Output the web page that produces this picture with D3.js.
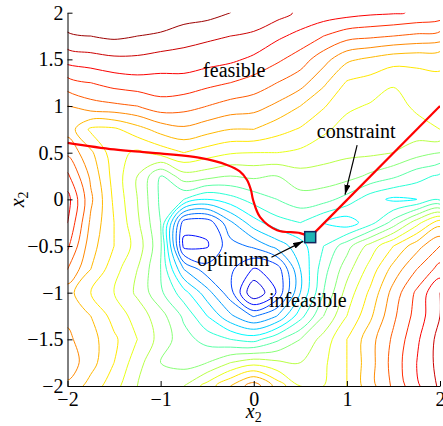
<!DOCTYPE html>
<html>
<head>
<meta charset="utf-8">
<script src="https://cdn.jsdelivr.net/npm/d3@7"></script>
<style>
  body { margin: 0; background: #fff; }
  svg { display: block; }
</style>
</head>
<body>
<div id="chart"></div>
<script>
"use strict";

// axis ticks
var xTicks = [-2, -1, 0, 1, 2];
var yTicks = [-2, -1.5, -1, -0.5, 0, 0.5, 1, 1.5, 2];

// sample grid of the objective
var gridX = [-2, -1.75, -1.5, -1.25, -1, -0.75, -0.5, -0.25, 0, 0.25, 0.5, 0.75, 1, 1.25, 1.5, 1.75, 2];
var gridY = [2, 1.75, 1.5, 1.25, 1, 0.75, 0.5, 0.25, 0, -0.25, -0.5, -0.75, -1, -1.25, -1.5, -1.75, -2];
// one row per gridY value (top row first), one column per gridX value
var zRows = [
  [1.05, 1.06, 1.07, 1.06, 1.05, 1.03, 1.02, 1.0, 0.99, 0.97, 0.94, 0.93, 0.92, 0.91, 0.905, 0.895, 0.885],
  [0.99, 1.0, 1.01, 1.0, 0.99, 0.97, 0.96, 0.95, 0.94, 0.91, 0.885, 0.85, 0.82, 0.81, 0.8, 0.79, 0.78],
  [0.92, 0.93, 0.94, 0.94, 0.93, 0.93, 0.92, 0.91, 0.89, 0.86, 0.825, 0.77, 0.71, 0.69, 0.67, 0.665, 0.66],
  [0.83, 0.85, 0.87, 0.88, 0.88, 0.88, 0.865, 0.85, 0.83, 0.8, 0.77, 0.71, 0.645, 0.63, 0.605, 0.625, 0.64],
  [0.75, 0.78, 0.79, 0.8, 0.83, 0.82, 0.8, 0.78, 0.77, 0.74, 0.7, 0.655, 0.61, 0.595, 0.58, 0.61, 0.63],
  [0.73, 0.64, 0.64, 0.68, 0.72, 0.74, 0.72, 0.7, 0.7, 0.67, 0.645, 0.61, 0.58, 0.57, 0.57, 0.58, 0.6],
  [0.79, 0.71, 0.62, 0.59, 0.62, 0.65, 0.625, 0.605, 0.6, 0.6, 0.59, 0.57, 0.56, 0.56, 0.55, 0.52, 0.5],
  [0.86, 0.74, 0.63, 0.55, 0.45, 0.53, 0.52, 0.5, 0.51, 0.5, 0.53, 0.53, 0.52, 0.49, 0.46, 0.42, 0.39],
  [0.92, 0.76, 0.64, 0.55, 0.44, 0.4, 0.35, 0.38, 0.42, 0.45, 0.48, 0.47, 0.43, 0.37, 0.34, 0.35, 0.39],
  [0.9, 0.74, 0.65, 0.56, 0.45, 0.12, 0.115, 0.24, 0.33, 0.38, 0.4, 0.35, 0.32, 0.38, 0.47, 0.58, 0.68],
  [0.86, 0.72, 0.65, 0.58, 0.46, 0.085, 0.095, 0.18, 0.21, 0.27, 0.33, 0.4, 0.48, 0.57, 0.65, 0.73, 0.8],
  [0.8, 0.7, 0.62, 0.55, 0.45, 0.25, 0.17, 0.16, 0.095, 0.12, 0.3, 0.43, 0.53, 0.62, 0.72, 0.8, 0.87],
  [0.72, 0.65, 0.6, 0.54, 0.46, 0.37, 0.27, 0.17, 0.0, 0.105, 0.3, 0.45, 0.57, 0.66, 0.77, 0.86, 0.95],
  [0.74, 0.7, 0.63, 0.58, 0.52, 0.44, 0.35, 0.26, 0.195, 0.25, 0.38, 0.5, 0.6, 0.69, 0.79, 0.87, 0.95],
  [0.76, 0.72, 0.66, 0.6, 0.53, 0.47, 0.43, 0.4, 0.38, 0.44, 0.5, 0.57, 0.65, 0.73, 0.81, 0.89, 0.97],
  [0.78, 0.72, 0.65, 0.57, 0.5, 0.48, 0.5, 0.55, 0.58, 0.56, 0.55, 0.59, 0.65, 0.73, 0.82, 0.9, 0.97],
  [0.74, 0.68, 0.62, 0.55, 0.52, 0.55, 0.62, 0.7, 0.78, 0.68, 0.6, 0.6, 0.65, 0.73, 0.81, 0.89, 0.96]
];
// contour levels
var levels = [0.05, 0.1, 0.15, 0.2, 0.25, 0.3, 0.35, 0.4, 0.45, 0.5,
              0.55, 0.6, 0.65, 0.7, 0.75, 0.8, 0.85, 0.9, 0.95, 1.0];

// constraint boundary: curved branch up to the optimum, then a straight branch
var constraintCurveX = [-2, -1.5, -1.114, -0.577, -0.287, -0.15, -0.072, -0.03, -0.007, 0.068, 0.251, 0.498, 0.606];
var constraintCurveY = [0.606, 0.535, 0.5, 0.444, 0.369, 0.3, 0.208, 0.1, -0.007, -0.19, -0.33, -0.362, -0.405];
var constraintLineX = [0.606, 2];
var constraintLineY = [-0.405, 1.0];
var optimum = [0.606, -0.405];

var labels = ["feasible", "constraint", "optimum", "infeasible"];

(function () {
  var width = 443,
      height = 426;
  var left = 67.5, right = 440, top = 12.7, bottom = 386;
  var fontFamily = "'Liberation Serif', 'Times New Roman', serif";

  var x = d3.scaleLinear().domain([-2, 2]).range([left, right]);
  var y = d3.scaleLinear().domain([-2, 2]).range([bottom, top]);

  // matlab style jet colormap
  function jet(t) {
    function c(v) { return Math.round(255 * Math.max(0, Math.min(1, v))); }
    var r = 1.5 - Math.abs(4 * t - 3),
        g = 1.5 - Math.abs(4 * t - 2),
        b = 1.5 - Math.abs(4 * t - 1);
    return "rgb(" + c(r) + "," + c(g) + "," + c(b) + ")";
  }
  // level value -> position on the colormap
  var colorPos = d3.scaleLinear().domain([-0.05, 1.03]).range([0, 1]);

  var svg = d3.select("#chart").append("svg")
    .attr("width", width)
    .attr("height", height);

  var defs = svg.append("defs");
  defs.append("clipPath").attr("id", "plot-clip")
    .append("rect")
    .attr("x", left).attr("y", top)
    .attr("width", right - left).attr("height", bottom - top);

  defs.append("marker")
    .attr("id", "arrow")
    .attr("viewBox", "0 0 10 6")
    .attr("refX", 10).attr("refY", 3)
    .attr("markerWidth", 10).attr("markerHeight", 6)
    .attr("markerUnits", "userSpaceOnUse")
    .attr("orient", "auto")
    .append("path")
    .attr("d", "M0,0L10,3L0,6Z")
    .attr("fill", "#000");

  // contours from the sample grid
  var nx = gridX.length, ny = gridY.length;
  var values = [];
  zRows.forEach(function (row) { row.forEach(function (v) { values.push(v); }); });

  // grid cell coordinates -> pixels (samples sit at cell centres)
  var gx = d3.scaleLinear().domain([0.5, nx - 0.5]).range([x(gridX[0]), x(gridX[nx - 1])]);
  var gy = d3.scaleLinear().domain([0.5, ny - 0.5]).range([y(gridY[0]), y(gridY[ny - 1])]);

  var contours = d3.contours().size([nx, ny]).thresholds(levels)(values);

  // each ring is drawn as a smooth closed curve
  var ringLine = d3.line()
    .x(function (p) { return gx(p[0]); })
    .y(function (p) { return gy(p[1]); })
    .curve(d3.curveCatmullRomClosed.alpha(0.5));

  function ringsPath(d) {
    var s = "";
    d.coordinates.forEach(function (polygon) {
      polygon.forEach(function (ring) {
        s += ringLine(ring.slice(0, ring.length - 1));
      });
    });
    return s;
  }

  svg.append("g")
    .attr("clip-path", "url(#plot-clip)")
    .selectAll("path")
    .data(contours)
    .join("path")
    .attr("d", ringsPath)
    .attr("fill", "none")
    .attr("stroke", function (d) { return jet(colorPos(d.value)); })
    .attr("stroke-width", 1)
    .attr("stroke-linejoin", "round");

  // constraint
  var curve = d3.line()
    .x(function (d) { return x(d[0]); })
    .y(function (d) { return y(d[1]); })
    .curve(d3.curveCatmullRom);
  var straight = d3.line()
    .x(function (d) { return x(d[0]); })
    .y(function (d) { return y(d[1]); });

  var plot = svg.append("g").attr("clip-path", "url(#plot-clip)");
  plot.append("path")
    .attr("d", curve(d3.zip(constraintCurveX, constraintCurveY)))
    .attr("fill", "none")
    .attr("stroke", "#f00")
    .attr("stroke-width", 2.2);
  plot.append("path")
    .attr("d", straight(d3.zip(constraintLineX, constraintLineY)))
    .attr("fill", "none")
    .attr("stroke", "#f00")
    .attr("stroke-width", 2.2);

  // annotations
  function arrow(x1, y1, x2, y2) {
    svg.append("line")
      .attr("x1", x(x1)).attr("y1", y(y1))
      .attr("x2", x(x2)).attr("y2", y(y2))
      .attr("stroke", "#000")
      .attr("stroke-width", 1.2)
      .attr("marker-end", "url(#arrow)");
  }
  arrow(1.11, 0.58, 0.98, 0.05);
  arrow(0.19, -0.62, 0.53, -0.45);

  svg.append("rect")
    .attr("x", x(optimum[0]) - 5.5)
    .attr("y", y(optimum[1]) - 5.5)
    .attr("width", 11)
    .attr("height", 11)
    .attr("fill", "#1fb4b4")
    .attr("stroke", "#12245c")
    .attr("stroke-width", 1.5);

  var labelPos = [[-0.21, 1.31], [1.1, 0.66], [-0.22, -0.715], [0.58, -1.155]];
  svg.append("g")
    .selectAll("text")
    .data(labels)
    .join("text")
    .attr("x", function (d, i) { return x(labelPos[i][0]); })
    .attr("y", function (d, i) { return y(labelPos[i][1]); })
    .attr("text-anchor", "middle")
    .attr("font-family", fontFamily)
    .attr("font-size", 20)
    .attr("fill", "#000")
    .text(function (d) { return d; });

  // axes
  var fmt = d3.format("~g");
  var xAxis = svg.append("g")
    .attr("transform", "translate(0," + bottom + ")")
    .call(d3.axisBottom(x).tickValues(xTicks).tickFormat(fmt)
      .tickSizeInner(-5).tickSizeOuter(0).tickPadding(6));
  var yAxis = svg.append("g")
    .attr("transform", "translate(" + left + ",0)")
    .call(d3.axisLeft(y).tickValues(yTicks).tickFormat(fmt)
      .tickSizeInner(-5).tickSizeOuter(0).tickPadding(4));

  [xAxis, yAxis].forEach(function (a) {
    a.attr("font-family", fontFamily).attr("font-size", 20);
    a.selectAll("text").attr("fill", "#000");
    a.selectAll("line, path").attr("stroke", "#000");
  });

  // axis titles (both read x2 in the original)
  function title(g) {
    g.append("tspan").attr("font-style", "italic").attr("font-size", 20).text("x");
    g.append("tspan").attr("font-size", 14).attr("dy", 4).text("2");
  }
  title(svg.append("text")
    .attr("x", x(0))
    .attr("y", 418)
    .attr("text-anchor", "middle")
    .attr("font-family", fontFamily));
  title(svg.append("text")
    .attr("transform", "translate(24," + y(0) + ") rotate(-90)")
    .attr("text-anchor", "middle")
    .attr("font-family", fontFamily));
})();
</script>
</body>
</html>
